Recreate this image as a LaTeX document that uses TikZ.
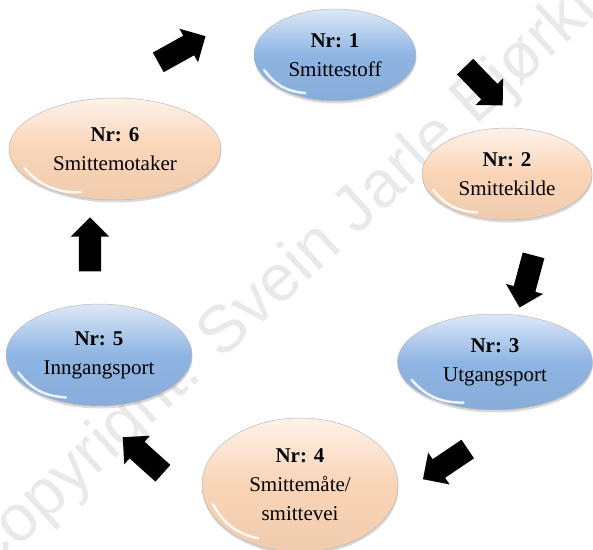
\documentclass[tikz,border=0pt]{standalone}
\usepackage{fontspec}
\setmainfont{Liberation Serif}
\newfontfamily\wmfont{Liberation Sans}
\usetikzlibrary{shapes.geometric,shapes.arrows,shadows,calc}

\definecolor{portblue}{RGB}{142,180,227}
\definecolor{linkpeach}{RGB}{250,212,182}

\begin{document}
\begin{tikzpicture}[x=1pt,y=1pt]
\tikzstyle{egg}=[ellipse,draw=gray!55,line width=0.5pt,inner sep=0pt,align=center,
                 font=\fontsize{21}{29}\selectfont,
                 drop shadow={opacity=0.3,shadow xshift=0.5pt,shadow yshift=-2.5pt}]
\tikzstyle{blue egg}=[egg,top color=portblue!30!white,bottom color=portblue!96!black,middle color=portblue]
\tikzstyle{peach egg}=[egg,top color=linkpeach!30!white,bottom color=linkpeach!96!black,middle color=linkpeach]
\tikzstyle{blockarrow}=[single arrow,fill=black,inner sep=11pt,minimum height=54pt,
                 single arrow head extend=8pt,single arrow head indent=0pt]
\tikzstyle{shine}=[white,line width=2.5pt,line cap=round,opacity=0.85]

\useasboundingbox (0,0) rectangle (593,549);

% watermark
\node [rotate=42.6,text=gray!17,font=\wmfont\fontsize{66}{66}\selectfont] (wm) at (285,270) {Copyright: Svein Jarle Bjørkli};

\node [blue egg,minimum width=162pt,minimum height=92pt] (n1) at (335,494) {\textbf{Nr: 1}\\Smittestoff};
\node [peach egg,minimum width=170pt,minimum height=92pt] (n2) at (507,375) {\textbf{Nr: 2}\\Smittekilde};
\node [blue egg,minimum width=195pt,minimum height=96pt] (n3) at (495,187) {\textbf{Nr: 3}\\Utgangsport};
\node [peach egg,minimum width=196pt,minimum height=134pt] (n4) at (300,64) {\textbf{Nr: 4}\\Smittemåte/\\smittevei};
\node [blue egg,minimum width=186pt,minimum height=102pt] (n5) at (99,194) {\textbf{Nr: 5}\\Inngangsport};
\node [peach egg,minimum width=212pt,minimum height=102pt] (n6) at (115,400) {\textbf{Nr: 6}\\Smittemotaker};

\foreach \n in {n1,n2,n3,n4,n5,n6}
  \draw [shine] ($(\n.192)!0.07!(\n.center)$) to[bend right=25] ($(\n.232)!0.1!(\n.center)$);

% arrows round the chain
\node [blockarrow,rotate=29] (a12) at (177,497) {};
\node [blockarrow,rotate=-46] (a23) at (480,467) {};
\node [blockarrow,rotate=-105] (a34) at (528,273) {};
\node [blockarrow,rotate=214] (a45) at (450,88) {};
\node [blockarrow,rotate=138] (a56) at (147,90) {};
\node [blockarrow,rotate=90] (a61) at (90,299) {};

\end{tikzpicture}
\end{document}
